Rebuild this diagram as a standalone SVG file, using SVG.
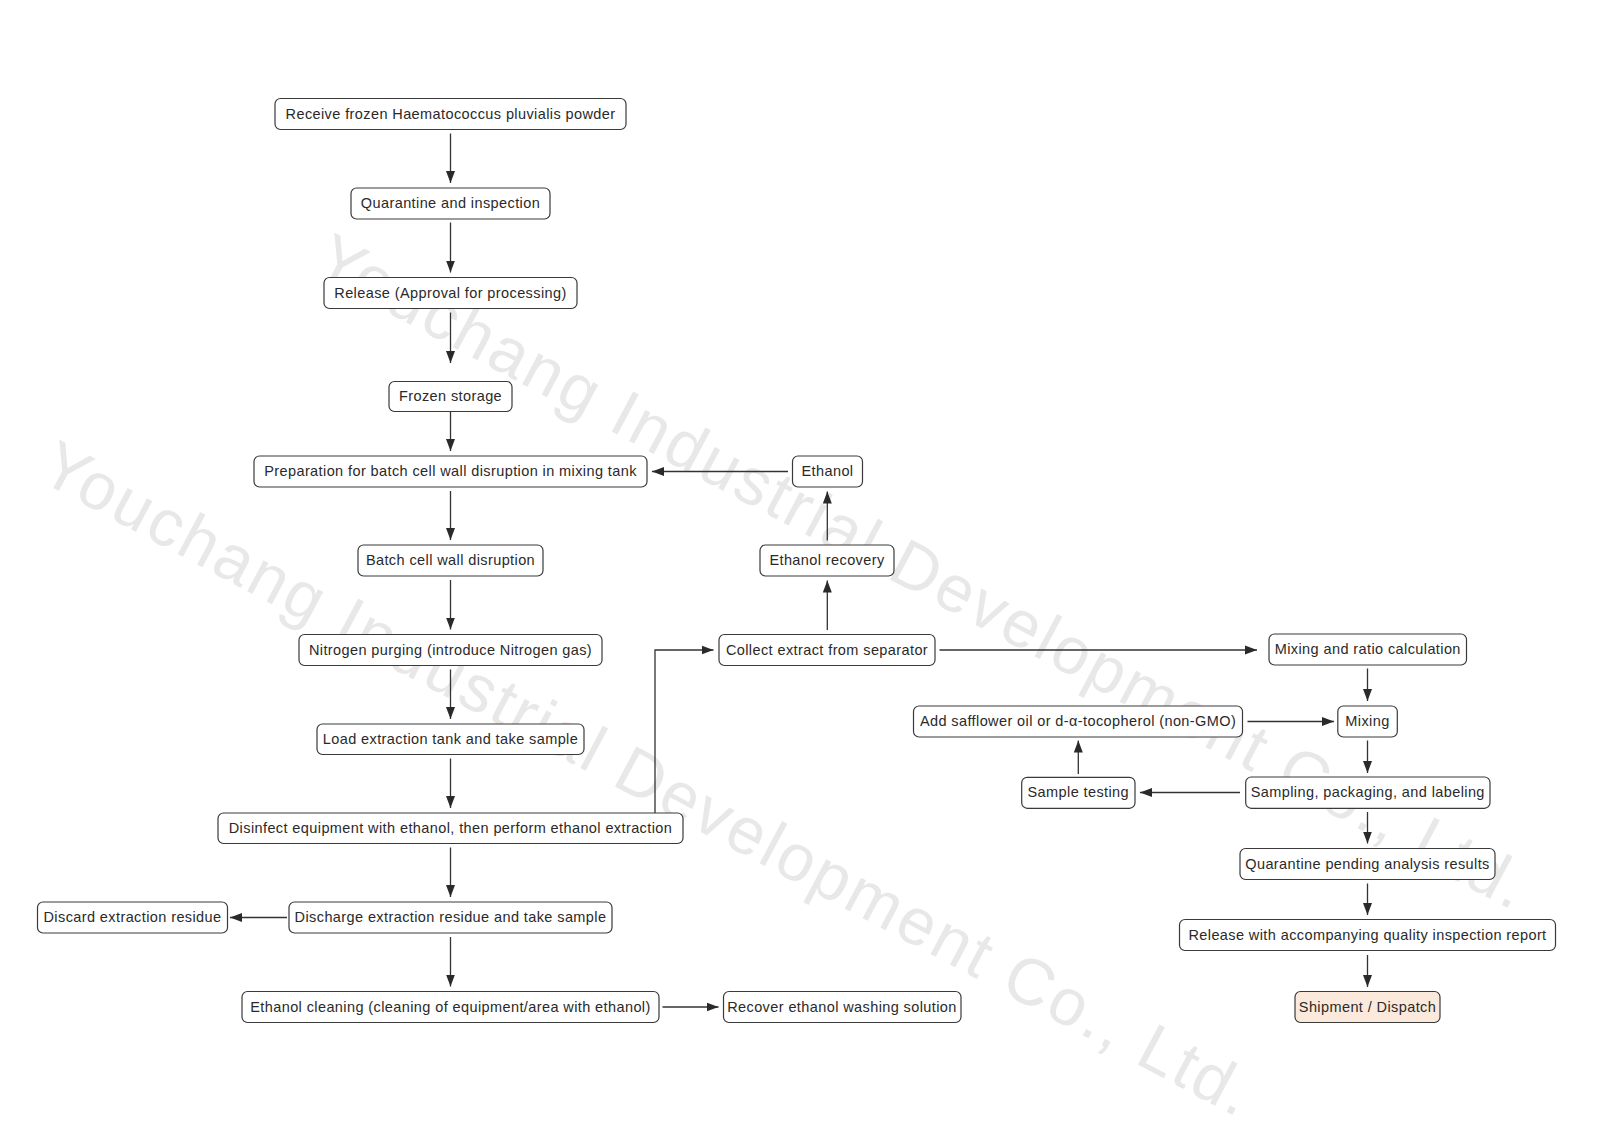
<svg xmlns="http://www.w3.org/2000/svg" width="1600" height="1132" viewBox="0 0 1600 1132">
<defs>
<style>
.n rect{fill:#fff;stroke:#3a3a3a;stroke-width:1.2}
.n text{font-family:"Liberation Sans",Arial,sans-serif;font-size:14.5px;fill:#2a2a2a;text-anchor:middle;dominant-baseline:central;letter-spacing:0.4px}
.c path{fill:none;stroke:#333;stroke-width:1.3}
.wm{font-family:"Liberation Sans",Arial,sans-serif;font-size:66px;fill:#e8e8e8;text-anchor:middle;dominant-baseline:central}
</style>
<marker id="ah" viewBox="0 0 12 10" refX="12" refY="5" markerWidth="12" markerHeight="10" markerUnits="userSpaceOnUse" orient="auto">
<path d="M0,0.5 L12,5 L0,9.5 Z" fill="#2a2a2a"/>
</marker>
</defs>
<rect width="1600" height="1132" fill="#fff"/>
<g id="watermark">
<text class="wm" transform="translate(923,571) rotate(28)" textLength="1360">Youchang Industrial Development Co., Ltd.</text>
<text class="wm" transform="translate(648,778) rotate(28)" textLength="1360">Youchang Industrial Development Co., Ltd.</text>
</g>
<g id="connectors" class="c">
<path d="M450.5,133.5 V183" marker-end="url(#ah)"/>
<path d="M450.5,222.5 V272.5" marker-end="url(#ah)"/>
<path d="M450.5,312.5 V363" marker-end="url(#ah)"/>
<path d="M450.5,411.5 V451" marker-end="url(#ah)"/>
<path d="M450.5,491 V540" marker-end="url(#ah)"/>
<path d="M450.5,580 V629.5" marker-end="url(#ah)"/>
<path d="M450.5,669.5 V719" marker-end="url(#ah)"/>
<path d="M450.5,758.5 V808" marker-end="url(#ah)"/>
<path d="M450.5,847.5 V897" marker-end="url(#ah)"/>
<path d="M450.5,937 V986.5" marker-end="url(#ah)"/>
<path d="M287,917.5 H230" marker-end="url(#ah)"/>
<path d="M662.5,1007 H718.5" marker-end="url(#ah)"/>
<path d="M655,813 V650 H713.5" marker-end="url(#ah)"/>
<path d="M827.3,630 V580.5" marker-end="url(#ah)"/>
<path d="M827.3,540.5 V491.5" marker-end="url(#ah)"/>
<path d="M788,471.5 H652" marker-end="url(#ah)"/>
<path d="M939.5,650 H1257" marker-end="url(#ah)"/>
<path d="M1367.5,668.5 V701" marker-end="url(#ah)"/>
<path d="M1247.5,721.5 H1334" marker-end="url(#ah)"/>
<path d="M1367.5,740.5 V773" marker-end="url(#ah)"/>
<path d="M1240,792.5 H1140" marker-end="url(#ah)"/>
<path d="M1078.3,774 V740.5" marker-end="url(#ah)"/>
<path d="M1367.5,812 V843.5" marker-end="url(#ah)"/>
<path d="M1367.5,883.5 V915" marker-end="url(#ah)"/>
<path d="M1367.5,955 V987" marker-end="url(#ah)"/>
</g>
<g id="n1" class="n"><rect x="275" y="98.5" width="351" height="31" rx="5.5"/><text x="450.5" y="113.5">Receive frozen Haematococcus pluvialis powder</text></g>
<g id="n2" class="n"><rect x="351" y="188" width="199" height="31" rx="5.5"/><text x="450.5" y="203">Quarantine and inspection</text></g>
<g id="n3" class="n"><rect x="324" y="277.5" width="253" height="31" rx="5.5"/><text x="450.5" y="292.5">Release (Approval for processing)</text></g>
<g id="n4" class="n"><rect x="389" y="381.5" width="123" height="30" rx="5.5"/><text x="450.5" y="396">Frozen storage</text></g>
<g id="n5" class="n"><rect x="254" y="456" width="393" height="31" rx="5.5"/><text x="450.5" y="471">Preparation for batch cell wall disruption in mixing tank</text></g>
<g id="n6" class="n"><rect x="358" y="545" width="185" height="31" rx="5.5"/><text x="450.5" y="560">Batch cell wall disruption</text></g>
<g id="n7" class="n"><rect x="299" y="634.5" width="303" height="31" rx="5.5"/><text x="450.5" y="649.5">Nitrogen purging (introduce Nitrogen gas)</text></g>
<g id="n8" class="n"><rect x="317" y="724" width="267" height="30.5" rx="5.5"/><text x="450.5" y="738.8">Load extraction tank and take sample</text></g>
<g id="n9" class="n"><rect x="218" y="813" width="465" height="30.5" rx="5.5"/><text x="450.5" y="827.8">Disinfect equipment with ethanol, then perform ethanol extraction</text></g>
<g id="n10" class="n"><rect x="289" y="902" width="323" height="31" rx="5.5"/><text x="450.5" y="917">Discharge extraction residue and take sample</text></g>
<g id="n11" class="n"><rect x="37.5" y="902" width="190" height="31" rx="5.5"/><text x="132.5" y="917">Discard extraction residue</text></g>
<g id="n12" class="n"><rect x="242" y="991.5" width="417" height="31" rx="5.5"/><text x="450.5" y="1006.5">Ethanol cleaning (cleaning of equipment/area with ethanol)</text></g>
<g id="n13" class="n"><rect x="723.5" y="991.5" width="237.5" height="31" rx="5.5"/><text x="842" y="1006.5">Recover ethanol washing solution</text></g>
<g id="n14" class="n"><rect x="792.5" y="456" width="70" height="31" rx="5.5"/><text x="827.5" y="471">Ethanol</text></g>
<g id="n15" class="n"><rect x="760" y="545" width="134" height="31" rx="5.5"/><text x="827" y="560">Ethanol recovery</text></g>
<g id="n16" class="n"><rect x="719" y="634.5" width="216" height="31" rx="5.5"/><text x="827" y="649.5">Collect extract from separator</text></g>
<g id="n17" class="n"><rect x="1269" y="634" width="197.5" height="31" rx="5.5"/><text x="1367.8" y="649">Mixing and ratio calculation</text></g>
<g id="n18" class="n"><rect x="1337.8" y="706" width="59.5" height="31" rx="5.5"/><text x="1367.5" y="721">Mixing</text></g>
<g id="n19" class="n"><rect x="913.5" y="706" width="329" height="31" rx="5.5"/><text x="1078" y="721">Add safflower oil or d-α-tocopherol (non-GMO)</text></g>
<g id="n20" class="n"><rect x="1021.7" y="777.3" width="113.3" height="31" rx="5.5"/><text x="1078.3" y="792.3">Sample testing</text></g>
<g id="n21" class="n"><rect x="1245.7" y="777" width="244.3" height="31.3" rx="5.5"/><text x="1367.8" y="792.2">Sampling, packaging, and labeling</text></g>
<g id="n22" class="n"><rect x="1240" y="848.5" width="255" height="31" rx="5.5"/><text x="1367.5" y="863.5">Quarantine pending analysis results</text></g>
<g id="n23" class="n"><rect x="1179.5" y="919.5" width="376" height="31" rx="5.5"/><text x="1367.5" y="934.5">Release with accompanying quality inspection report</text></g>
<g id="n24" class="n"><rect x="1295" y="991.5" width="145" height="31" rx="5.5" style="fill:#fbe9dc"/><text x="1367.5" y="1006.5">Shipment / Dispatch</text></g>
</svg>
